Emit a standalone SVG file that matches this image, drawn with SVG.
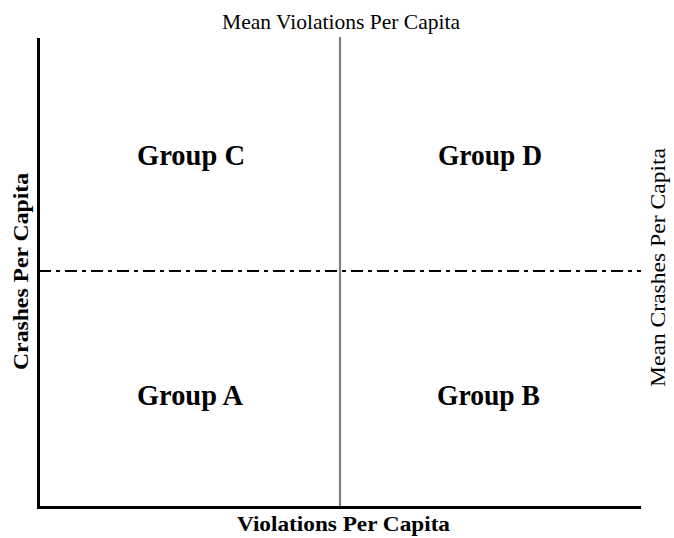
<svg xmlns="http://www.w3.org/2000/svg" width="674" height="538" viewBox="0 0 674 538">
<style>
.t{font-family:"Liberation Serif","Times New Roman",serif;fill:#000}
.lbl{font-size:22px}
.ax{font-size:22px;font-weight:bold}
.grp{font-size:29px;font-weight:bold}
</style>
<rect width="674" height="538" fill="#fff"/>
<g id="connectors">
<line x1="340" y1="37" x2="340" y2="506" stroke="#808080" stroke-width="2.2"/>
<line x1="39" y1="271" x2="641" y2="271" stroke="#000" stroke-width="2" stroke-dasharray="12,5,4,5"/>
<path d="M38.5,38 V507.5 H641" fill="none" stroke="#000" stroke-width="3"/>
</g>
<g id="title-top"><text class="t lbl" x="341" y="29" text-anchor="middle" textLength="238" lengthAdjust="spacingAndGlyphs">Mean Violations Per Capita</text></g>
<g id="title-right"><text class="t lbl" transform="translate(665,267.5) rotate(-90)" text-anchor="middle" textLength="239" lengthAdjust="spacingAndGlyphs">Mean Crashes Per Capita</text></g>
<g id="axis-y"><text class="t ax" transform="translate(28,271.5) rotate(-90)" text-anchor="middle" textLength="197" lengthAdjust="spacingAndGlyphs">Crashes Per Capita</text></g>
<g id="axis-x"><text class="t ax" x="343.5" y="531" text-anchor="middle" textLength="213" lengthAdjust="spacingAndGlyphs">Violations Per Capita</text></g>
<g id="groupC"><text class="t grp" x="191" y="165" text-anchor="middle" textLength="108" lengthAdjust="spacingAndGlyphs">Group C</text></g>
<g id="groupD"><text class="t grp" x="490" y="165" text-anchor="middle" textLength="104" lengthAdjust="spacingAndGlyphs">Group D</text></g>
<g id="groupA"><text class="t grp" x="190" y="405" text-anchor="middle" textLength="106" lengthAdjust="spacingAndGlyphs">Group A</text></g>
<g id="groupB"><text class="t grp" x="488.5" y="405" text-anchor="middle" textLength="103" lengthAdjust="spacingAndGlyphs">Group B</text></g>
</svg>
